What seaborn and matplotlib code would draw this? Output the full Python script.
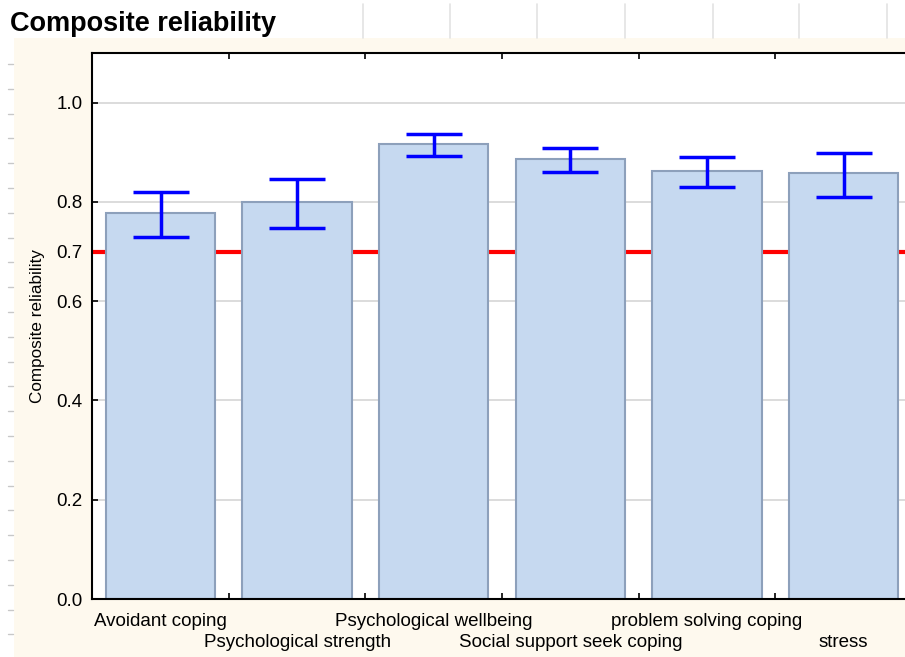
import matplotlib
matplotlib.use("Agg")
import matplotlib.pyplot as plt
import matplotlib.transforms as mtransforms
import seaborn as sns
import numpy as np
import pandas as pd
from matplotlib.patches import Rectangle
from matplotlib.lines import Line2D

categories = ["Avoidant coping", "Psychological strength", "Psychological wellbeing",
              "Social support seek coping", "problem solving coping", "stress"]
reliability = [0.777, 0.800, 0.917, 0.887, 0.863, 0.859]
ci_lower = [0.730, 0.748, 0.893, 0.861, 0.831, 0.810]
ci_upper = [0.820, 0.847, 0.937, 0.909, 0.891, 0.899]
threshold = 0.7
y_ticks = [0.0, 0.2, 0.4, 0.6, 0.7, 0.8, 1.0]

sns.set_style("white")
plt.rcParams["font.family"] = ["Liberation Sans", "DejaVu Sans"]
plt.rcParams["text.color"] = "black"
plt.rcParams["axes.labelcolor"] = "black"
plt.rcParams["xtick.color"] = "black"
plt.rcParams["ytick.color"] = "black"

W, H = 905, 657
fig = plt.figure(figsize=(W / 100, H / 100), dpi=100, facecolor="white")

# cream background panel
fig.patches.append(Rectangle((14 / W, 0), 1, (H - 38) / H, transform=fig.transFigure,
                             facecolor="#FEF9EE", edgecolor="none", zorder=-10))
# header grid lines (spreadsheet look)
for xp in [363, 450, 537, 625, 713, 799, 887]:
    fig.lines.append(Line2D([xp / W, xp / W], [1 - 4 / H, 1 - 38 / H], transform=fig.transFigure,
                            color="#E3E3E3", lw=1.2, zorder=-5))
# left row markers
yp = 64.0
while yp < H:
    fig.lines.append(Line2D([8 / W, 13 / W], [1 - yp / H, 1 - yp / H], transform=fig.transFigure,
                            color="#C8C8C8", lw=1, zorder=-5))
    yp += 24.8

ax_left, ax_right, ax_top, ax_bot = 92.2, 911.8, 53, 599
ax = fig.add_axes([ax_left / W, 1 - ax_bot / H, (ax_right - ax_left) / W, (ax_bot - ax_top) / H])
ax.set_zorder(1)
ax.set_facecolor("white")

df = pd.DataFrame({"category": categories, "value": reliability})
for t in y_ticks:
    ax.axhline(t, color="#DCDCDC", lw=1.4, zorder=0)
ax.axhline(threshold, color="#FF0000", lw=3, zorder=1)

sns.barplot(data=df, x="category", y="value", color="#C6D9F0", edgecolor="#8DA0BB",
            linewidth=1.5, width=0.8, saturation=1, errorbar=None, ax=ax, zorder=2)

vals = np.array(reliability)
yerr = np.vstack([vals - np.array(ci_lower), np.array(ci_upper) - vals])
ax.errorbar(np.arange(len(categories)), vals, yerr=yerr, fmt="none", ecolor="#0000FF",
            elinewidth=2.5, capsize=20.5, capthick=2.5, zorder=3)

ax.set_xlim(-0.5, len(categories) - 0.5)
ax.set_ylim(0, 1.1)
ax.set_yticks(y_ticks)
ax.set_yticklabels([f"{t:.1f}" for t in y_ticks], fontsize=13.5)
ax.set_xticks(np.arange(len(categories)))
ax.set_xticklabels(categories, fontsize=13.5)
ax.set_xticks(np.arange(len(categories) - 1) + 0.5, minor=True)
ax.tick_params(axis="x", which="major", length=0, pad=10)
ax.tick_params(axis="x", which="minor", length=4, width=1.2, direction="in", top=True, bottom=True,
               color="black")
ax.tick_params(axis="y", which="major", length=4, width=1.2, direction="in", left=True, pad=7,
               color="black")
shift = mtransforms.ScaledTranslation(0, -21 / 100, fig.dpi_scale_trans)
for i, lab in enumerate(ax.get_xticklabels()):
    if i % 2 == 1:
        lab.set_transform(lab.get_transform() + shift)
ax.set_xlabel("")
ax.set_ylabel("Composite reliability", fontsize=12.3)
ax.yaxis.set_label_coords(-0.0575, 0.5)
for s in ax.spines.values():
    s.set_color("black")
    s.set_linewidth(1.5)

fig.text(10 / W, 1 - 11 / H, "Composite reliability", fontsize=19.5, fontweight="bold",
         va="top", ha="left", color="black")

fig.savefig("out.png", dpi=100, facecolor=fig.get_facecolor())
